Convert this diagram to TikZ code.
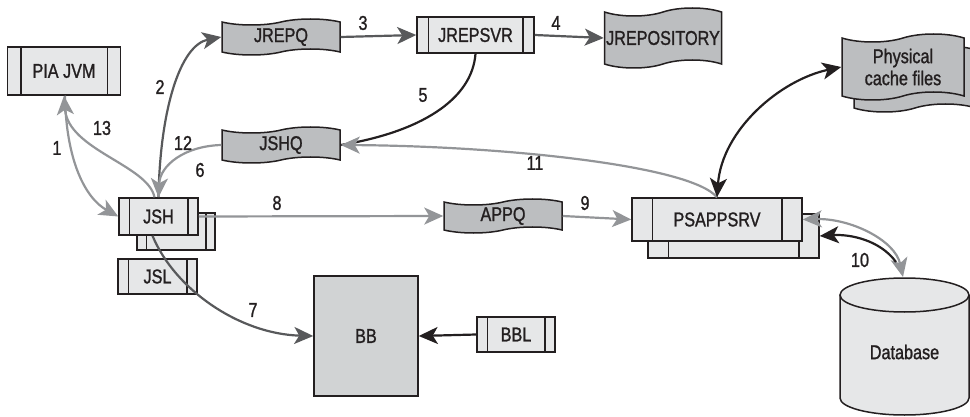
\documentclass[tikz,border=0pt]{standalone}
\usepackage{fontspec}
\setmainfont{Liberation Sans}[FakeStretch=0.81, FakeBold=1.2]
\usetikzlibrary{arrows.meta,shapes.symbols}

\definecolor{ink}{HTML}{231F20}
\definecolor{boxfill}{HTML}{E6E7E8}
\definecolor{tapefill}{HTML}{BCBEC0}
\definecolor{bbfill}{HTML}{D1D3D4}
\definecolor{lightflow}{HTML}{939598}
\definecolor{darkflow}{HTML}{58595B}

\newcommand\diagfont{\fontsize{20}{22}\selectfont}

% process box with two vertical bars inside: name, x, y, width, height, bar inset, text
\newcommand\procnode[7]{%
  \node[procbox, minimum width=#4pt, minimum height=#5pt] (#1) at (#2,#3) {#7};
  \draw[procbar] ([xshift=#6pt]#1.north west) -- ([xshift=#6pt]#1.south west)
                 ([xshift=-#6pt]#1.north east) -- ([xshift=-#6pt]#1.south east);
}

\begin{document}
\begin{tikzpicture}[x=1pt,y=-1pt,
  >={Stealth[length=19pt,width=17pt,inset=5pt]},
  procbox/.style={draw=ink, fill=boxfill, line width=1.5pt, inner sep=0pt, font=\diagfont, text=ink},
  procbar/.style={draw=ink, line width=1.5pt},
  queue/.style={tape, draw=ink, fill=tapefill, line width=1.5pt, inner sep=0pt,
                tape bend height=6pt, font=\diagfont, text=ink, align=center},
  lightflow/.style={draw=lightflow, line width=2.2pt},
  darkflow/.style={draw=darkflow, line width=2.2pt},
  blackflow/.style={draw=ink, line width=2.2pt},
  lbl/.style={font=\diagfont, text=ink, inner sep=0pt}]
\useasboundingbox (0,0) rectangle (970,417);

% ---- servers and handlers
\procnode{pia}{64}{71}{113}{48}{14}{PIA JVM}
\procnode{jrepsvr}{475.5}{35}{117}{36}{12}{JREPSVR}
\procnode{jshb}{176}{231.5}{78}{37}{10}{}
\procnode{jsh}{158.5}{216.5}{79}{37}{11}{JSH}
\procnode{jsl}{157.5}{276.5}{79}{35}{11}{JSL}
\procnode{bbl}{516}{334.5}{78}{35}{11}{BBL}
\procnode{psappb}{733.5}{236}{171}{44}{21}{}
\procnode{psapp}{717}{219.5}{170}{43}{21}{PSAPPSRV}

% ---- bulletin board
\node[draw=ink, fill=bbfill, line width=1.5pt, minimum width=104pt, minimum height=120pt,
      font=\diagfont, text=ink] (bb) at (366,336) {BB};

% ---- queues and files
\node[queue, minimum width=118pt, minimum height=36pt] (jrepq) at (281,37) {JREPQ};
\node[queue, minimum width=117pt, minimum height=60pt, tape bend height=8pt] (jrepos) at (663,38) {JREPOSITORY};
\node[queue, minimum width=118pt, minimum height=36pt] (jshq) at (281,145) {JSHQ};
\node[queue, minimum width=118pt, minimum height=34pt] (appq) at (503,216) {APPQ};
\node[queue, minimum width=122pt, minimum height=66pt, tape bend height=8pt] (physb) at (915,79) {};
\node[queue, minimum width=122pt, minimum height=66pt, tape bend height=8pt] (phys) at (903,67) {Physical\\cache files};

% ---- database cylinder
\path[fill=boxfill, draw=ink, line width=1.5pt]
  (840,295) -- (840,398) .. controls (840,407.4) and (868.9,415) .. (904.5,415)
  .. controls (940.1,415) and (969,407.4) .. (969,398) -- (969,295);
\draw[fill=boxfill, draw=ink, line width=1.5pt] (904.5,295) ellipse [x radius=64.5, y radius=17];
\node[lbl] (db) at (904.5,352) {Database};
\coordinate (dbtop) at (903,277);
\coordinate (dbneck) at (896,262);

% ---- flows
\draw[lightflow, ->] ([xshift=1pt]pia.south) .. controls (66,160) and (85,198) .. (jsh.west);
\draw[lightflow, ->] ([xshift=-4pt]jsh.north) .. controls (148,165) and (68,150) .. (pia.south);
\draw[darkflow, ->] (jsh.north) .. controls (160,110) and (180,45) .. (jrepq.west);
\draw[lightflow, ->] (jshq.west) .. controls (185,146) and (160,165) .. (jsh.north);
\draw[darkflow, ->] (jrepq.east) -- (jrepsvr.west);
\draw[darkflow, ->] (jrepsvr.east) -- (jrepos.west);
\draw[blackflow] (jrepsvr.south) .. controls (472,100) and (420,132) .. (jshq.east);
\draw[lightflow, ->] (psapp.north) .. controls (690,165) and (500,146) .. (jshq.east);
\draw[blackflow, <->] (psapp.north) .. controls (722,130) and (780,80) .. (phys.west);
\draw[lightflow, ->] (jsh.east) -- (appq.west);
\draw[lightflow, ->] (appq.east) -- (psapp.west);
\draw[darkflow, ->] ([xshift=-6pt]jsh.south) .. controls (175,290) and (240,334) .. (bb.west);
\draw[blackflow, ->] (bbl.west) -- (bb.east);
\draw[lightflow, <->] (psapp.east) .. controls (850,218) and (895,240) .. (dbtop);
\draw[blackflow, ->] (dbneck) .. controls (880,240) and (850,234) .. (psappb.east);

% ---- step numbers
\node[lbl] (n1) at (57,148) {1};
\node[lbl] (n13) at (102,128) {13};
\node[lbl] (n2) at (160,87) {2};
\node[lbl] (n12) at (183,143) {12};
\node[lbl] (n6) at (200,170) {6};
\node[lbl] (n3) at (363,23) {3};
\node[lbl] (n4) at (556,23) {4};
\node[lbl] (n5) at (423,95) {5};
\node[lbl] (n11) at (535,163) {11};
\node[lbl] (n8) at (277,203) {8};
\node[lbl] (n9) at (585,203) {9};
\node[lbl] (n7) at (253,310) {7};
\node[lbl] (n10) at (860,260) {10};
\end{tikzpicture}
\end{document}
